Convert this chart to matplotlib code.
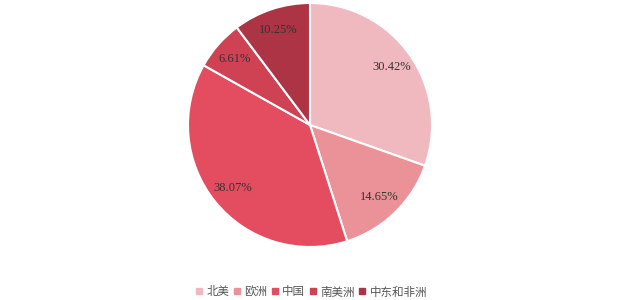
import matplotlib
matplotlib.use("Agg")
import matplotlib.pyplot as plt
from matplotlib.lines import Line2D

plt.rcParams['font.family'] = ['Noto Sans CJK SC', 'DejaVu Sans']

categories = ['北美', '欧洲', '中国', '南美洲', '中东和非洲']
values = [30.42, 14.65, 38.07, 6.61, 10.25]
colors = ['#f0b9bf', '#eb9299', '#e44d5f', '#cf4254', '#ad3444']

fig = plt.figure(figsize=(6.19, 3.00), dpi=100)
cx, cy, r = 310, 125, 122
W, H = 619, 300
ax = fig.add_axes([(cx - r) / W, (H - cy - r) / H, 2 * r / W, 2 * r / H])
wedges, texts, autotexts = ax.pie(values, colors=colors, startangle=90, counterclock=False,
                                  radius=1, autopct=lambda p: f'{p:.2f}%', pctdistance=0.82,
                                  wedgeprops=dict(edgecolor='white', linewidth=1.5))
for t in autotexts:
    t.set_fontfamily('Liberation Serif')
    t.set_fontsize(9)
    t.set_color('#333333')
ax.set_xlim(-1, 1)
ax.set_ylim(-1, 1)
ax.set_aspect('equal')
ax.axis('off')

handles = [Line2D([0], [0], marker='s', linestyle='', markersize=4.5, markerfacecolor=c,
                  markeredgecolor=c) for c in colors]
leg = fig.legend(handles, categories, loc='center', bbox_to_anchor=(311 / W, 1 - 292 / H), ncol=5,
                 frameon=False, fontsize=8.3, handletextpad=0.3, columnspacing=0.3, handlelength=0.7,
                 borderpad=0, borderaxespad=0)
for t in leg.get_texts():
    t.set_color('#555555')

fig.savefig('out.png', dpi=100)
